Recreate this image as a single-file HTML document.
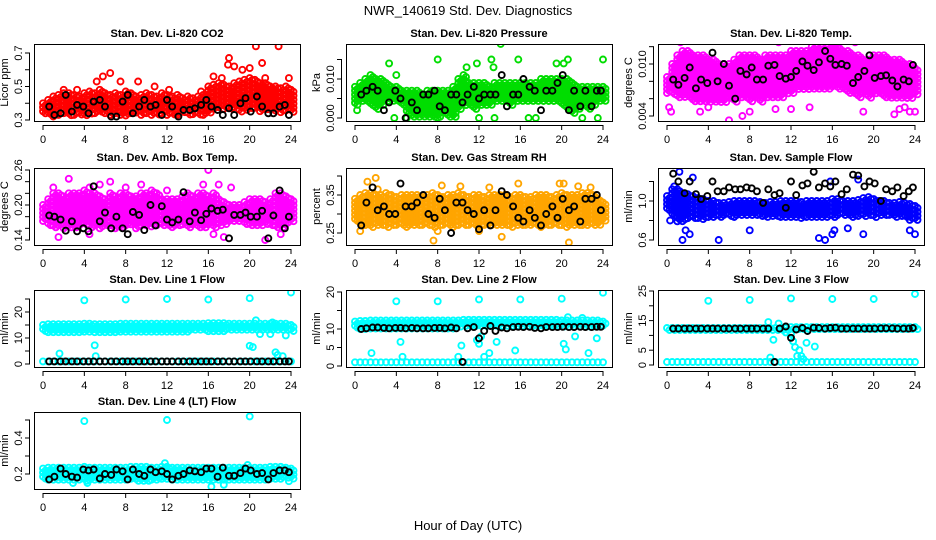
<!DOCTYPE html>
<html><head><meta charset="utf-8"><style>
html,body{margin:0;padding:0;background:#fff;}
svg{display:block;font-family:"Liberation Sans",sans-serif;}
</style></head><body>
<svg id="fig" width="936" height="540" viewBox="0 0 936 540" xmlns="http://www.w3.org/2000/svg">
<text x="468" y="15" text-anchor="middle" font-size="13">NWR_140619 Std. Dev. Diagnostics</text>
<text x="468" y="530" text-anchor="middle" font-size="13">Hour of Day (UTC)</text>
</svg>
<script>
const xTicks = [0,4,8,12,16,20,24];
const blackHours = [0.6,1.1,1.7,2.2,2.8,3.3,3.9,4.4,4.9,5.5,6.0,6.6,7.1,7.7,8.2,8.7,9.3,9.8,10.4,10.9,11.5,12.0,12.5,13.1,13.6,14.2,14.7,15.3,15.8,16.3,16.9,17.4,18.0,18.5,19.1,19.6,20.1,20.7,21.2,21.8,22.3,22.9,23.4,23.8];

const lo1 = [0.33,0.33,0.32,0.33,0.33,0.32,0.33,0.33,0.32,0.33,0.33,0.34,0.33,0.32,0.33,0.33,0.32,0.33,0.34,0.33,0.33,0.32,0.33,0.33,0.32,0.33,0.33,0.34,0.33,0.33,0.33,0.32,0.34,0.36,0.37,0.36,0.36,0.37,0.35,0.36,0.36,0.37,0.35,0.36,0.36,0.35,0.34,0.35,0.34];
const hi1 = [0.40,0.42,0.44,0.45,0.46,0.46,0.45,0.44,0.46,0.47,0.46,0.48,0.46,0.45,0.46,0.45,0.47,0.46,0.44,0.45,0.46,0.45,0.44,0.46,0.45,0.44,0.45,0.43,0.44,0.43,0.44,0.45,0.50,0.51,0.52,0.51,0.50,0.52,0.53,0.54,0.55,0.54,0.52,0.52,0.50,0.50,0.49,0.50,0.48];
const out1 = [[2,0.48],[3.3,0.48],[5.2,0.53],[5.8,0.56],[6.5,0.58],[7.5,0.53],[9.2,0.53],[10.8,0.50],[12.2,0.48],[15.3,0.47],[16.5,0.56],[17.3,0.55],[17.9,0.63],[18,0.67],[18.5,0.62],[19.3,0.60],[20,0.61],[20.6,0.74],[21.2,0.64],[21.5,0.55],[22.8,0.74],[23.8,0.55]];
const black1 = [0.38,0.33,0.34,0.45,0.35,0.39,0.38,0.34,0.41,0.42,0.38,0.32,0.32,0.41,0.45,0.34,0.38,0.42,0.38,0.39,0.33,0.42,0.38,0.32,0.36,0.36,0.37,0.39,0.42,0.38,0.36,0.33,0.37,0.33,0.40,0.43,0.35,0.44,0.38,0.34,0.34,0.38,0.39,0.33];

const lo2 = [0.003,0.004,0.004,0.003,0.002,0.003,0.004,0.004,0.004,0.003,0.001,0.000,0.000,0.000,0.000,0.000,0.000,0.001,0.000,0.000,0.002,0.003,0.003,0.002,0.003,0.003,0.003,0.004,0.004,0.004,0.003,0.004,0.004,0.004,0.004,0.004,0.004,0.004,0.004,0.004,0.003,0.002,0.001,0.002,0.003,0.002,0.003,0.004,0.004];
const hi2 = [0.008,0.009,0.010,0.011,0.010,0.010,0.009,0.008,0.008,0.007,0.007,0.007,0.007,0.006,0.007,0.007,0.007,0.007,0.007,0.008,0.010,0.011,0.009,0.009,0.009,0.009,0.008,0.009,0.009,0.009,0.009,0.009,0.009,0.009,0.009,0.009,0.010,0.010,0.010,0.010,0.010,0.010,0.009,0.008,0.008,0.008,0.008,0.008,0.008];
const out2 = [[3.3,0.014],[4,0.011],[8,0.015],[10.8,0.013],[11.8,0.014],[13.2,0.015],[13.4,0.013],[14.1,0.019],[15.8,0.015],[19.5,0.014],[20.2,0.014],[20.6,0.015],[24,0.015],[0.2,0.002],[3.8,0],[5,0],[8,0],[12,0],[13.5,0],[16.8,0],[17.5,0],[22,0],[23.5,0]];
const black2 = [0.006,0.007,0.008,0.007,0.002,0.004,0.007,0.005,0.000,0.004,0.002,0.006,0.006,0.007,0.003,0.002,0.006,0.006,0.004,0.006,0.008,0.005,0.006,0.006,0.006,0.011,0.003,0.006,0.006,0.010,0.008,0.007,0.002,0.007,0.007,0.009,0.011,0.002,0.007,0.003,0.007,0.003,0.007,0.007];

const lo3 = [0.0065,0.0065,0.006,0.006,0.006,0.0055,0.0055,0.0055,0.0055,0.0055,0.0055,0.0055,0.006,0.0055,0.006,0.006,0.0055,0.006,0.0055,0.006,0.006,0.006,0.006,0.0065,0.0065,0.007,0.007,0.007,0.007,0.007,0.007,0.007,0.0072,0.007,0.007,0.0065,0.0065,0.006,0.0065,0.006,0.0065,0.0065,0.006,0.006,0.006,0.006,0.006,0.006,0.0065];
const hi3 = [0.0085,0.010,0.011,0.0115,0.0115,0.011,0.011,0.011,0.0105,0.0105,0.010,0.010,0.010,0.0105,0.011,0.011,0.011,0.011,0.0105,0.011,0.011,0.011,0.011,0.011,0.0115,0.0115,0.0115,0.0115,0.012,0.012,0.012,0.012,0.0125,0.012,0.0115,0.0115,0.011,0.011,0.0105,0.0105,0.011,0.011,0.011,0.0105,0.0105,0.0105,0.010,0.010,0.0095];
const out3 = [[0.2,0.005],[0.4,0.0045],[1.3,0.0125],[3.2,0.0045],[4,0.005],[6,0.0035],[7.3,0.004],[8,0.0045],[10.5,0.0048],[10.8,0.0125],[12,0.0048],[13.8,0.005],[16.6,0.013],[18.2,0.0125],[19,0.0045],[22,0.0042],[22.5,0.0048],[23.5,0.0045],[24,0.0045],[23,0.005]];
const black3 = [0.0082,0.0076,0.0084,0.0096,0.0072,0.0082,0.0078,0.0113,0.0080,0.0100,0.0075,0.0060,0.0092,0.0088,0.0096,0.0082,0.0082,0.0098,0.0099,0.0086,0.0083,0.0085,0.0092,0.0103,0.0098,0.0093,0.0102,0.0115,0.0106,0.0099,0.0100,0.0098,0.0078,0.0085,0.0092,0.0110,0.0084,0.0086,0.0087,0.0081,0.0074,0.0082,0.0080,0.0099];

const lo4 = [0.17,0.165,0.16,0.165,0.16,0.16,0.16,0.165,0.165,0.16,0.165,0.16,0.165,0.165,0.16,0.16,0.165,0.165,0.16,0.165,0.165,0.16,0.165,0.165,0.165,0.16,0.165,0.165,0.16,0.165,0.16,0.16,0.165,0.16,0.165,0.165,0.17,0.17,0.17,0.165,0.165,0.165,0.165,0.165,0.165,0.16,0.16,0.165,0.17];
const hi4 = [0.20,0.21,0.22,0.22,0.215,0.22,0.22,0.22,0.225,0.22,0.22,0.215,0.21,0.22,0.215,0.22,0.22,0.215,0.215,0.22,0.22,0.225,0.22,0.21,0.21,0.21,0.21,0.215,0.22,0.215,0.22,0.22,0.215,0.22,0.21,0.205,0.20,0.20,0.20,0.205,0.21,0.21,0.21,0.205,0.21,0.22,0.22,0.215,0.21];
const out4 = [[1,0.23],[1.5,0.145],[2.5,0.245],[4.5,0.23],[5.5,0.235],[6.5,0.24],[8,0.23],[9.5,0.235],[12,0.225],[15.5,0.235],[16,0.26],[16.5,0.15],[17,0.235],[17.5,0.145],[18.2,0.23],[21.5,0.14],[23,0.15],[4.5,0.15]];
const black4 = [0.182,0.180,0.175,0.156,0.172,0.155,0.160,0.155,0.232,0.172,0.187,0.160,0.180,0.160,0.150,0.188,0.183,0.157,0.200,0.165,0.198,0.175,0.170,0.175,0.222,0.172,0.187,0.174,0.185,0.194,0.190,0.192,0.143,0.183,0.183,0.187,0.180,0.180,0.190,0.143,0.182,0.225,0.160,0.180];

const lo5 = [0.28,0.27,0.27,0.265,0.27,0.27,0.265,0.27,0.27,0.27,0.265,0.27,0.27,0.27,0.27,0.265,0.27,0.27,0.27,0.265,0.27,0.27,0.27,0.27,0.265,0.27,0.27,0.27,0.27,0.27,0.265,0.27,0.27,0.27,0.27,0.27,0.265,0.27,0.27,0.27,0.27,0.265,0.27,0.27,0.27,0.27,0.27,0.27,0.28];
const hi5 = [0.34,0.35,0.355,0.355,0.35,0.35,0.355,0.35,0.345,0.35,0.35,0.35,0.35,0.345,0.35,0.355,0.35,0.345,0.35,0.35,0.355,0.35,0.345,0.35,0.35,0.345,0.35,0.35,0.35,0.35,0.345,0.35,0.35,0.345,0.345,0.35,0.35,0.35,0.345,0.35,0.355,0.35,0.35,0.35,0.355,0.355,0.35,0.34,0.33];
const out5 = [[0.5,0.255],[1.2,0.385],[2,0.395],[2.2,0.365],[7.6,0.23],[8.4,0.375],[10.2,0.373],[13,0.37],[14.2,0.24],[15.8,0.38],[19.8,0.38],[20.2,0.38],[20.7,0.225],[21.6,0.373],[22.8,0.37],[8,0.255],[12,0.255]];
const black5 = [0.27,0.33,0.37,0.31,0.32,0.30,0.30,0.38,0.32,0.32,0.33,0.35,0.30,0.29,0.34,0.31,0.25,0.33,0.33,0.31,0.30,0.26,0.31,0.27,0.31,0.36,0.35,0.32,0.29,0.28,0.31,0.29,0.27,0.30,0.32,0.29,0.34,0.31,0.32,0.28,0.34,0.34,0.35,0.31];

const lo6 = [0.9,0.85,0.78,0.78,0.82,0.82,0.82,0.8,0.82,0.82,0.82,0.84,0.84,0.83,0.85,0.84,0.84,0.84,0.83,0.82,0.83,0.83,0.83,0.82,0.83,0.82,0.82,0.82,0.82,0.82,0.82,0.82,0.83,0.84,0.85,0.84,0.83,0.84,0.84,0.85,0.83,0.84,0.84,0.84,0.83,0.83,0.82,0.8,0.8];
const hi6 = [1.05,1.12,1.12,1.08,1.07,1.05,1.03,1.02,1.0,1.0,0.98,0.98,0.99,1.0,1.0,1.0,1.0,1.0,0.99,0.98,0.99,0.99,1.0,1.0,1.0,1.0,0.99,1.0,1.0,1.0,1.0,1.0,1.02,1.02,1.0,1.0,1.0,1.01,1.03,1.04,1.02,1.0,1.0,0.98,0.98,0.99,0.98,0.97,0.95];
const out6 = [[0.3,0.8],[0.7,1.15],[1.2,1.3],[1.5,0.6],[1.8,0.7],[2.2,0.66],[2.5,1.24],[5,0.6],[8,0.7],[14.7,0.62],[15.3,0.6],[16,0.66],[16.2,0.7],[17.5,0.72],[19,0.66],[23.5,0.7],[24,0.66],[15.8,1.2],[18.5,1.22]];
const black6 = [1.28,1.2,1.08,1.2,1.07,1.02,1.05,1.2,1.1,1.1,1.14,1.12,1.12,1.14,1.13,1.1,0.98,1.12,1.06,1.08,0.93,1.2,1.06,1.16,1.18,1.3,1.14,1.18,1.15,1.2,1.07,1.12,1.27,1.26,1.15,1.2,1.18,1.0,1.12,1.1,1.14,1.05,1.1,1.14];

const lo7 = [12,12,12,12,12,12,12.2,12.2,12,12,12,12,12,12,12,12,12,12,12,12.2,12,12,12,12,12.2,12.2,12.2,12.2,12.2,12.5,12.5,12.5,12.5,12.5,12.5,12.5,12.5,12.5,12.5,12.5,12.5,12.5,12.5,12.5,12.5,12.5,12.5,12.5,12.5];
const hi7 = [15,15.3,15.3,15.3,15.3,15.3,15.3,15.3,15.5,15.5,15.3,15.3,15.3,15.3,15.3,15.5,15.5,15.5,15.5,15.5,15.5,15.5,15.5,15.5,15.5,15.5,15.5,15.5,15.5,15.5,15.5,15.5,15.7,15.7,15.7,15.7,15.5,15.5,15.5,15.5,15.5,15.5,15.5,15.5,15.5,15.5,15.5,15.5,15];
const base7 = [1,1,1,1,1,1,1,1,1,1,1,1,1,1,1,1,1,1,1,1,1,1,1,1,1,1,1,1,1,1,1,1,1,1,1,1,1,1,1,1,1,1,1,1,1,1,1,1,1];
const out7 = [[4,24.5],[8,24.8],[12,25],[16,24.8],[20,25.3],[24,27.5],[1.6,4],[5,7.2],[5.1,3],[20,7],[20.3,6.5],[20.6,16.8],[21,11.5],[22,11.5],[22.5,4.5],[22.7,3.5],[23.2,3],[23.5,11],[22.2,16]];
const black7 = [1,1,1,1,1,1,1,1,1,1,1,1,1,1,1,1,1,1,1,1,1,1,1,1,1,1,1,1,1,1,1,1,1,1,1,1,1,1,1,1,1,1,1,1];

const lo8 = [10,10,10,10,10,10,10,10,10,10,10,10,10,10,10,10,10,10,10,10,10.5,10.5,10.5,10.5,10.5,10.5,10.5,10.5,10.5,10.5,10.5,10.5,10.5,10.5,10.5,10.5,10.5,10.5,10.5,10.5,10.5,10.5,10.5,10.5,10.5,10.5,10.5,10.5,10.5];
const hi8 = [12,12.2,12.2,12.3,12.3,12.3,12.3,12.3,12.3,12.3,12.3,12.3,12.3,12.3,12.3,12.3,12.3,12.3,12.3,12.3,12.3,12.5,12.5,12.5,12.5,12.5,12.5,12.5,12.5,12.5,12.5,12.5,12.5,12.5,12.5,12.5,12.5,12.5,12.5,12.5,12.3,12.3,12.3,12.3,12.3,12.3,12.3,12.3,12];
const base8 = [1,1,1,1,1,1,1,1,1,1,1,1,1,1,1,1,1,1,1,1,1,1,1,1,1,1,1,1,1,1,1,1,1,1,1,1,1,1,1,1,1,1,1,1,1,1,1,1,1];
const out8 = [[1.6,3.5],[4,17.5],[4.4,6.5],[4.6,2.5],[8,17.5],[10,2.5],[10.3,5.5],[12,18],[12,6],[12.5,2.5],[13,3.5],[13.7,6.5],[15.5,4.2],[16,18],[20,18.2],[20.2,6],[20.4,4.5],[20.6,13.2],[21.3,8],[22,13],[22.6,3.5],[23.4,7.5],[24,19.8],[11.8,7],[12.2,8]];
const black8 = [10,10.2,10.4,10.4,10.3,10.2,10.3,10.3,10.2,10.3,10.2,10.2,10.2,10.3,10.3,10.2,10.4,10.2,1.1,10.2,10.5,7.5,9.5,10.8,9.5,10.4,10.2,10.5,10.6,10.5,10.6,10.3,10.2,10.5,10.5,10.5,10.6,10.5,10.5,10.6,10.5,10.5,10.6,10.6];

const lo9 = [11.3,11.3,11.5,11.5,11.5,11.5,11.5,11.5,11.5,11.5,11.5,11.5,11.5,11.5,11.5,11.5,11.5,11.5,11.5,11.5,11.5,11.5,11.5,11.5,11.5,11.5,11.5,11.5,11.8,11.8,11.8,11.8,11.8,11.8,11.8,11.8,11.8,11.8,11.8,11.8,11.8,11.8,11.8,11.8,11.8,11.8,11.8,11.8,11.8];
const hi9 = [12.5,12.5,12.5,12.5,12.5,12.5,12.5,12.5,12.5,12.5,12.5,12.5,12.5,12.5,12.5,12.5,12.5,12.5,12.5,12.5,12.5,12.5,12.5,12.5,12.8,12.8,12.8,12.8,12.8,12.8,12.8,12.8,12.8,12.8,12.8,12.8,12.8,12.8,12.8,12.8,12.8,12.8,12.8,12.8,12.8,12.8,12.8,12.8,12.8];
const base9 = [1,1,1,1,1,1,1,1,1,1,1,1,1,1,1,1,1,1,1,1,1,1,1,1,1,1,1,1,1,1,1,1,1,1,1,1,1,1,1,1,1,1,1,1,1,1,1,1,1];
const out9 = [[9.8,14.5],[10.3,8.5],[10.8,14],[11.5,11],[12,10.5],[12.2,8],[12.4,6],[12.6,3],[12.8,5],[13,3],[13.2,2],[13.5,7.5],[14.3,6.2],[10,2.5],[4,21.7],[8,22],[12,22.5],[16,22.3],[20,22.3],[24,24]];
const black9 = [12.3,12.3,12.3,12.3,12.3,12.3,12.3,12.3,12.3,12.3,12.3,12.3,12.3,12.3,12.3,12.3,12.3,12.3,1.0,12.3,13,9.2,12,12.5,11.5,12.6,12.5,12.3,12.5,12.6,12.3,12.3,12.3,12.3,12.3,12.3,12.3,12.4,12.4,12.4,12.3,12.3,12.3,12.5];

const lo10 = [0.17,0.165,0.16,0.16,0.16,0.16,0.16,0.16,0.16,0.16,0.16,0.16,0.16,0.16,0.16,0.16,0.16,0.165,0.16,0.16,0.16,0.16,0.16,0.165,0.165,0.165,0.165,0.165,0.165,0.165,0.165,0.165,0.165,0.165,0.165,0.165,0.165,0.165,0.165,0.165,0.165,0.165,0.165,0.165,0.165,0.165,0.165,0.17,0.17];
const hi10 = [0.23,0.235,0.235,0.235,0.235,0.235,0.235,0.235,0.24,0.235,0.235,0.235,0.235,0.235,0.235,0.235,0.235,0.24,0.24,0.24,0.24,0.235,0.235,0.24,0.24,0.235,0.235,0.235,0.235,0.235,0.235,0.235,0.235,0.235,0.235,0.235,0.235,0.235,0.235,0.235,0.235,0.235,0.235,0.235,0.24,0.24,0.24,0.235,0.23];
const out10 = [[4,0.494],[12,0.5],[20,0.52],[2.9,0.15],[4.3,0.15],[16.3,0.13],[17.5,0.14],[23.8,0.16],[11.8,0.26],[19.8,0.25]];
const black10 = [0.17,0.185,0.23,0.2,0.185,0.18,0.225,0.22,0.225,0.175,0.2,0.195,0.225,0.215,0.17,0.225,0.2,0.19,0.225,0.21,0.215,0.2,0.17,0.19,0.2,0.22,0.215,0.21,0.23,0.23,0.185,0.235,0.19,0.19,0.205,0.23,0.22,0.2,0.205,0.17,0.205,0.22,0.22,0.21];

const panels = [
 {id:'co2',col:0,row:0,title:'Stan. Dev. Li-820 CO2',ylab:'Licor ppm',color:'#ff0000',bands:[[lo1,hi1]],out:out1,black:black1,ticks:[0.3,0.4,0.5,0.6,0.7],labels:['0.3','','0.5','','0.7'],ref:[0.3,120,0.7,53]},
 {id:'pressure',col:1,row:0,title:'Stan. Dev. Li-820 Pressure',ylab:'kPa',color:'#00dd00',bands:[[lo2,hi2]],out:out2,black:black2,ticks:[0,0.005,0.01,0.015],labels:['0.000','','0.010',''],ref:[0,118,0.01,79]},
 {id:'licor-temp',col:2,row:0,title:'Stan. Dev. Li-820 Temp.',ylab:'degrees C',color:'#ff00ff',bands:[[lo3,hi3]],out:out3,black:black3,ticks:[0.004,0.006,0.008,0.010,0.012],labels:['0.004','','','0.010',''],ref:[0.004,116,0.010,64]},
 {id:'box-temp',col:0,row:1,title:'Stan. Dev. Amb. Box Temp.',ylab:'degrees C',color:'#ff00ff',bands:[[lo4,hi4]],out:out4,black:black4,ticks:[0.14,0.16,0.18,0.20,0.22,0.24,0.26],labels:['0.14','','','0.20','','','0.26'],ref:[0.14,240,0.26,170]},
 {id:'rh',col:1,row:1,title:'Stan. Dev. Gas Stream RH',ylab:'percent',color:'#ffa500',bands:[[lo5,hi5]],out:out5,black:black5,ticks:[0.25,0.30,0.35,0.40],labels:['0.25','','0.35',''],ref:[0.25,233,0.35,195]},
 {id:'sample-flow',col:2,row:1,title:'Stan. Dev. Sample Flow',ylab:'ml/min',color:'#0000ff',bands:[[lo6,hi6]],out:out6,black:black6,ticks:[0.6,0.8,1.0,1.2],labels:['0.6','','1.0',''],ref:[0.6,240,1.0,201]},
 {id:'line1',col:0,row:2,title:'Stan. Dev. Line 1 Flow',ylab:'ml/min',color:'#00ffff',bands:[[lo7,hi7],[base7,base7]],out:out7,black:black7,ticks:[0,5,10,15,20,25],labels:['0','','10','','20',''],ref:[0,364,20,312]},
 {id:'line2',col:1,row:2,title:'Stan. Dev. Line 2 Flow',ylab:'ml/min',color:'#00ffff',bands:[[lo8,hi8],[base8,base8]],out:out8,black:black8,ticks:[0,5,10,15,20],labels:['0','5','10','','20'],ref:[0,366,20,292]},
 {id:'line3',col:2,row:2,title:'Stan. Dev. Line 3 Flow',ylab:'ml/min',color:'#00ffff',bands:[[lo9,hi9],[base9,base9]],out:out9,black:black9,ticks:[0,5,10,15,20,25],labels:['0','5','','15','','25'],ref:[0,365,25,291]},
 {id:'line4',col:0,row:3,title:'Stan. Dev. Line 4 (LT) Flow',ylab:'ml/min',color:'#00ffff',bands:[[lo10,hi10]],out:out10,black:black10,ticks:[0.2,0.3,0.4,0.5],labels:['0.2','','0.4',''],ref:[0.2,474,0.4,438]}
];

const NS='http://www.w3.org/2000/svg';
const svg=document.getElementById('fig');
const rowTops=[44,168,290,412];
function mk(tag,attrs,parent){const e=document.createElementNS(NS,tag);for(const k in attrs)e.setAttribute(k,attrs[k]);parent.appendChild(e);return e;}

panels.forEach(p=>{
  const L=34+312*p.col, T=rowTops[p.row], W=266, H=77, B=T+H;
  const xs=h=>L+9+h*(248/24);
  const k=(p.ref[3]-p.ref[1])/(p.ref[2]-p.ref[0]);
  const ys=v=>p.ref[1]+(v-p.ref[0])*k;
  const g=mk('g',{},svg);
  
  
  const clip=mk('clipPath',{id:'c'+p.id},g);
  mk('rect',{x:L,y:T,width:W,height:H},clip);
  const t=mk('text',{x:L+W/2,y:T-7,'text-anchor':'middle','font-size':'11','font-weight':'bold'},g);
  t.textContent=p.title;
  
  
  const pts=mk('g',{'clip-path':'url(#c'+p.id+')',fill:'none','stroke-width':'1.9'},g);
  
  
  p.bands.forEach(([lo,hi])=>{
    lo.forEach((v,i)=>{
      const y1=ys(hi[i]), y2=ys(v);
      [[0,0],[2.5,2]].forEach(([dx,dy])=>{
        const x=xs(i*0.5)+dx;
        for(let y=y1+dy;y<=y2+0.01;y+=4){
          const c=mk('circle',{cx:x.toFixed(1),cy:y.toFixed(1),r:3,stroke:p.color},pts);
          
          
        }
      });
    });
  });
  p.out.forEach(([h,v])=>{
    const c=mk('circle',{cx:xs(h).toFixed(1),cy:ys(v).toFixed(1),r:3,stroke:p.color},pts);
    
    
  });
  const bk=mk('g',{'clip-path':'url(#c'+p.id+')',fill:'none','stroke-width':'1.9',stroke:'#000'},g);
  
  
  p.black.forEach((v,i)=>{
    const c=mk('circle',{cx:xs(blackHours[i]).toFixed(1),cy:ys(v).toFixed(1),r:3},bk);
    
    
  });
  const box=mk('rect',{x:L+0.5,y:T+0.5,width:W,height:H,fill:'none',stroke:'#000','stroke-width':1},g);
  
  
  const xa=mk('g',{},g);
  
  
  mk('line',{x1:xs(0),x2:xs(24),y1:B+4.5,y2:B+4.5,stroke:'#000'},xa);
  xTicks.forEach(h=>{
    mk('line',{x1:xs(h),x2:xs(h),y1:B+4,y2:B+9,stroke:'#000'},xa);
    const tl=mk('text',{x:xs(h),y:B+22,'text-anchor':'middle','font-size':'11'},xa);
    tl.textContent=h;
    
    
  });
  const ya=mk('g',{},g);
  
  
  const yt=p.ticks.map(ys);
  mk('line',{x1:L-4.5,x2:L-4.5,y1:Math.min(...yt),y2:Math.max(...yt),stroke:'#000'},ya);
  p.ticks.forEach((v,i)=>{
    const y=ys(v);
    mk('line',{x1:L-4,x2:L-9,y1:y,y2:y,stroke:'#000'},ya);
    if(p.labels[i]){
      const tl=mk('text',{x:L-12,y:y,'text-anchor':'middle','font-size':'11',transform:'rotate(-90 '+(L-12)+' '+y+')'},ya);
      tl.textContent=p.labels[i];
      
      
    }
  });
  const yl=mk('text',{x:L-26,y:T+H/2,'text-anchor':'middle','font-size':'11',transform:'rotate(-90 '+(L-26)+' '+(T+H/2)+')'},g);
  yl.textContent=p.ylab;
  
  
});
</script>
</body></html>
